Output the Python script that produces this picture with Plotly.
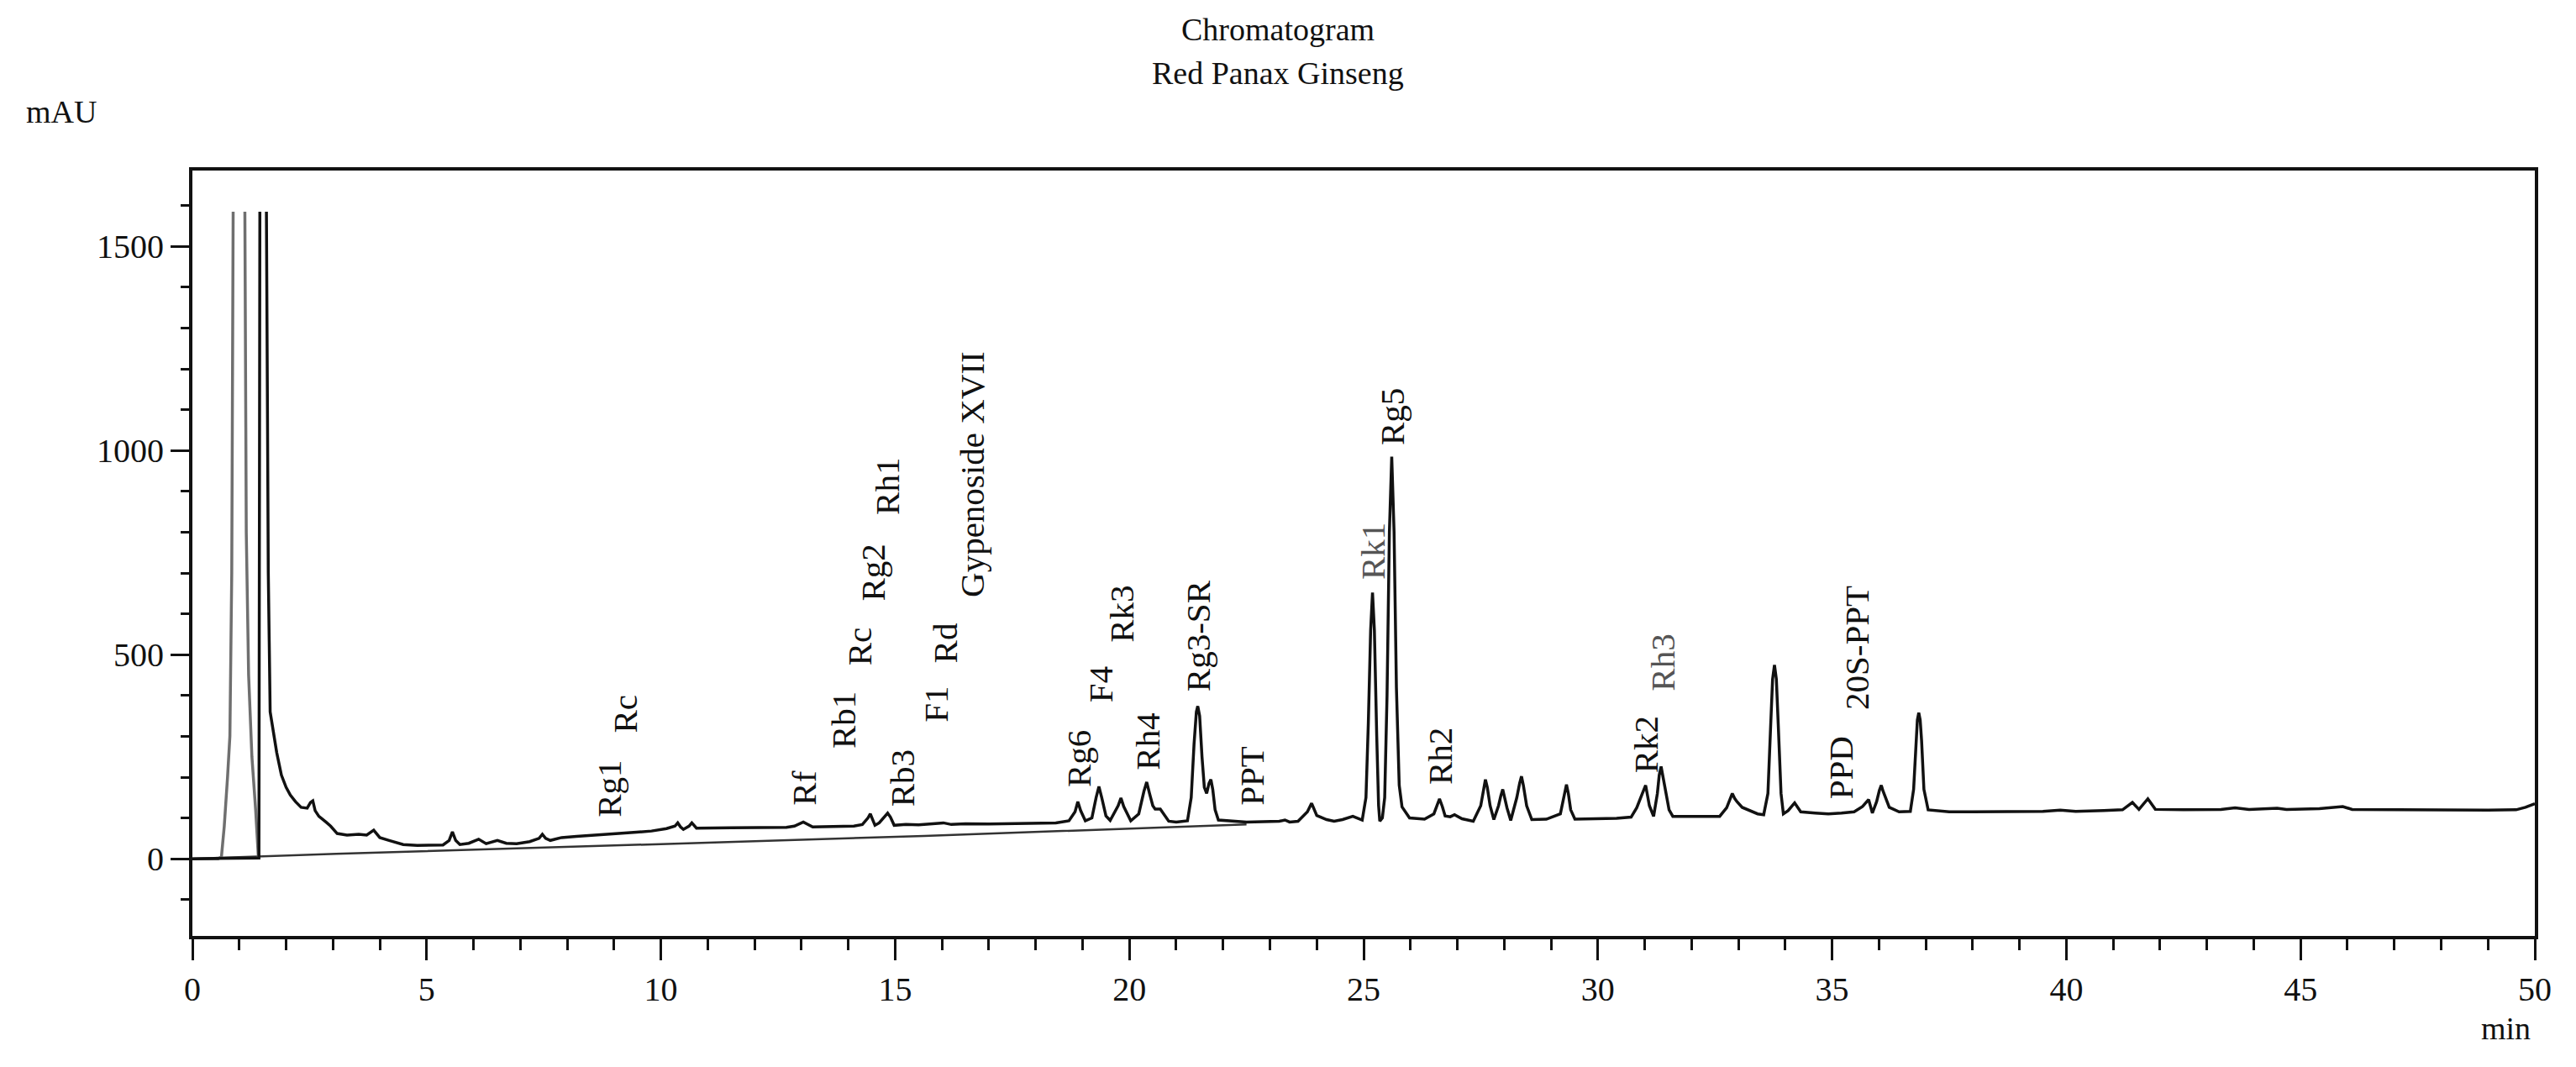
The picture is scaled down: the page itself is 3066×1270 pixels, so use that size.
import plotly.graph_objects as go

# ---------------- data ----------------
# main chromatogram (black); None = pen lifted where the signal is off-scale
time_min = [
    0.0, 1.42, 1.44, None, 1.58, 1.62, 1.66, 1.72, 1.8, 1.9, 2.0, 2.09, 2.2, 2.32, 2.45, 2.52, 2.57, 2.62,
    2.7, 2.85, 2.95, 3.09, 3.3, 3.55, 3.72, 3.87, 4.0, 4.2, 4.5, 4.8, 5.07, 5.35, 5.48, 5.55, 5.62, 5.71,
    5.9, 6.11, 6.27, 6.51, 6.7, 6.92, 7.2, 7.4, 7.47, 7.54, 7.64, 7.88, 8.2, 8.68, 9.1, 9.48, 9.8, 10.12,
    10.3, 10.36, 10.42, 10.48, 10.6, 10.66, 10.72, 10.76, 11.5, 12.2, 12.68, 12.85, 13.04, 13.24, 13.7,
    14.12, 14.3, 14.42, 14.47, 14.52, 14.57, 14.66, 14.78, 14.84, 14.9, 14.98, 15.23, 15.5, 15.8, 16.03,
    16.2, 16.5, 17.0, 17.63, 18.1, 18.43, 18.71, 18.84, 18.9, 18.96, 19.06, 19.2, 19.29, 19.35, 19.41,
    19.5, 19.59, 19.76, 19.82, 19.88, 20.03, 20.2, 20.31, 20.37, 20.43, 20.5, 20.55, 20.66, 20.84, 21.0,
    21.24, 21.32, 21.38, 21.43, 21.46, 21.5, 21.55, 21.6, 21.65, 21.7, 21.74, 21.78, 21.83, 21.9, 22.5,
    23.0, 23.2, 23.32, 23.42, 23.6, 23.8, 23.89, 24.0, 24.21, 24.37, 24.55, 24.77, 24.97, 25.05, 25.1,
    25.15, 25.19, 25.23, 25.28, 25.32, 25.345, 25.4, 25.45, 25.5, 25.55, 25.6, 25.65, 25.7, 25.76, 25.82,
    25.98, 26.3, 26.5, 26.57, 26.62, 26.68, 26.74, 26.85, 26.94, 27.1, 27.34, 27.5, 27.56, 27.6, 27.64,
    27.7, 27.78, 27.88, 27.93, 27.97, 28.01, 28.06, 28.14, 28.27, 28.33, 28.37, 28.41, 28.48, 28.59, 28.9,
    29.2, 29.29, 29.33, 29.37, 29.42, 29.51, 30.0, 30.4, 30.71, 30.83, 30.95, 31.02, 31.1, 31.19, 31.27,
    31.31, 31.35, 31.39, 31.45, 31.52, 31.6, 32.2, 32.6, 32.75, 32.83, 32.87, 32.92, 32.97, 33.08, 33.24,
    33.41, 33.54, 33.63, 33.69, 33.73, 33.77, 33.81, 33.85, 33.91, 33.96, 34.06, 34.2, 34.33, 34.64, 34.92,
    35.2, 35.47, 35.65, 35.78, 35.86, 35.95, 36.01, 36.05, 36.09, 36.14, 36.22, 36.43, 36.67, 36.74,
    36.79, 36.82, 36.85, 36.88, 36.91, 36.96, 37.05, 37.5, 38.0, 38.5, 39.0, 39.5, 39.87, 40.2, 40.8,
    41.2, 41.41, 41.55, 41.74, 41.9, 42.5, 43.3, 43.6, 43.9, 44.5, 44.7, 45.4, 45.9, 46.1, 47.0, 48.0,
    49.0, 49.6, 49.8, 50.0,
]
signal_mau = [
    0, 2, 1585, None, 1585, 700, 360, 320, 260, 205, 175, 156, 140, 126, 124, 138, 142, 118,
    104, 90, 80, 62, 58, 60, 58, 70, 52, 45, 35, 33, 33, 34, 45, 66, 45, 35,
    38, 48, 37, 45, 38, 37, 42, 50, 60, 50, 45, 52, 55, 58, 62, 65, 68, 74,
    80, 88, 78, 72, 80, 88, 80, 75, 76, 77, 77, 80, 90, 78, 79,
    80, 84, 100, 110, 98, 82, 88, 105, 112, 102, 82, 84, 83, 86, 88,
    84, 86, 85, 86, 87, 88, 93, 115, 140, 118, 93, 100, 150, 177, 150,
    105, 94, 130, 149, 128, 93, 110, 165, 188, 160, 130, 122, 122, 92, 90,
    93, 150, 280, 360, 374, 350, 250, 175, 160, 185, 194, 170, 120, 95, 90,
    91, 92, 95, 90, 92, 115, 136, 106, 96, 92, 96, 104, 95, 150, 330,
    560, 652, 560, 300, 130, 92, 100, 150, 400, 800, 985, 800, 420, 180, 127,
    100, 97, 110, 132, 147, 128, 105, 103, 108, 98, 92, 130, 175, 194, 175,
    130, 96, 130, 155, 170, 150, 125, 94, 150, 185, 202, 180, 130, 96, 97,
    110, 165, 182, 160, 120, 97, 98, 99, 102, 125, 160, 180, 130, 104, 160,
    205, 226, 200, 160, 120, 104, 103, 104, 125, 150, 160, 148, 140, 126, 118,
    110, 108, 160, 330, 440, 475, 440, 330, 160, 110, 118, 137, 115, 112, 110,
    112, 115, 128, 145, 112, 140, 168, 180, 165, 150, 126, 115, 116, 170,
    290, 340, 358, 340, 290, 170, 120, 115, 115, 115, 116, 116, 119, 116, 118,
    120, 138, 121, 147, 121, 120, 121, 125, 121, 124, 121, 123, 128, 121, 120, 119,
    119, 120, 126, 135,
]

# solvent front (grey trace)
solvent_time = [0.0, 0.55, 0.62, 0.68, 0.75, 0.8, 0.84, 0.87, None, 1.12, 1.15, 1.2, 1.27, 1.35, 1.41]
solvent_mau = [0, 0, 5, 80, 200, 300, 700, 1585, None, 1585, 800, 450, 250, 120, 0]

# drawn integration baseline
baseline_time = [0.0, 3.07, 10.0, 15.62, 22.5]
baseline_mau = [0, 12, 36, 56, 84]

# peak labels
peak_names = ["Rg1", "Rc", "Rf", "Rb1", "Rc", "Rg2", "Rh1", "Rb3", "F1", "Rd", "Gypenoside XVII",
              "Rg6", "F4", "Rk3", "Rh4", "Rg3-SR", "PPT", "Rk1", "Rg5", "Rh2", "Rk2", "Rh3",
              "PPD", "20S-PPT"]
peak_label_time = [8.89, 9.23, 13.05, 13.9, 14.23, 14.51, 14.83, 15.16, 15.88, 16.07, 16.63,
                   18.91, 19.38, 19.83, 20.39, 21.48, 22.62, 25.21, 25.62, 26.62, 31.02, 31.38,
                   35.19, 35.54]
peak_label_base = [97, 303, 127, 266, 470, 627, 838, 124, 330, 475, 636,
                   172, 379, 525, 213, 406, 126, 679, 1008, 178, 205, 406,
                   141, 360]
peak_label_grey = ["Rk1", "Rh3"]

x_ticks = [0, 5, 10, 15, 20, 25, 30, 35, 40, 45, 50]
y_ticks = [0, 500, 1000, 1500]

# ---------------- figure ----------------
W, H = 3066, 1270
ML, MR, MT, MB = 229, 49, 203, 156
PW, PH = W - ML - MR, H - MT - MB
FONT = "Liberation Serif"

fig = go.Figure()
fig.add_trace(go.Scatter(x=baseline_time, y=baseline_mau, mode="lines",
                         line=dict(color="#333333", width=2.5), hoverinfo="skip", showlegend=False))
fig.add_trace(go.Scatter(x=solvent_time, y=solvent_mau, mode="lines", connectgaps=False,
                         line=dict(color="#6f6f6f", width=3.5), hoverinfo="skip", showlegend=False))
fig.add_trace(go.Scatter(x=time_min, y=signal_mau, mode="lines", connectgaps=False,
                         line=dict(color="#111111", width=3.5), showlegend=False))

annotations = []
for name, t, b in zip(peak_names, peak_label_time, peak_label_base):
    annotations.append(dict(
        x=t, y=b, xref="x", yref="y", text=name, showarrow=False, textangle=-90,
        xanchor="center", yanchor="bottom",
        font=dict(family=FONT, size=41, color="#555555" if name in peak_label_grey else "#111111"),
    ))


def px_x(p):
    return (p - ML) / PW


def px_y(p):
    return (H - MB - p) / PH


annotations += [
    dict(x=px_x(1521), y=px_y(35), xref="paper", yref="paper", text="Chromatogram", showarrow=False,
         xanchor="center", yanchor="middle", font=dict(family=FONT, size=38, color="#111111")),
    dict(x=px_x(1521), y=px_y(87), xref="paper", yref="paper", text="Red Panax Ginseng", showarrow=False,
         xanchor="center", yanchor="middle", font=dict(family=FONT, size=38, color="#111111")),
    dict(x=px_x(73), y=px_y(133), xref="paper", yref="paper", text="mAU", showarrow=False,
         xanchor="center", yanchor="middle", font=dict(family=FONT, size=38, color="#111111")),
    dict(x=px_x(2982), y=px_y(1224), xref="paper", yref="paper", text="min", showarrow=False,
         xanchor="center", yanchor="middle", font=dict(family=FONT, size=38, color="#111111")),
]

fig.update_layout(
    width=W, height=H,
    margin=dict(l=ML, r=MR, t=MT, b=MB, pad=0),
    paper_bgcolor="white", plot_bgcolor="white",
    font=dict(family=FONT, color="#111111"),
    annotations=annotations,
)
fig.update_xaxes(
    range=[0, 50], tickmode="array", tickvals=x_ticks, ticktext=[str(v) for v in x_ticks],
    showline=True, linecolor="#111111", linewidth=4, mirror=True,
    ticks="outside", ticklen=25, tickwidth=3, tickcolor="#111111",
    minor=dict(dtick=1, tick0=0, ticks="outside", ticklen=13, tickwidth=3, tickcolor="#111111"),
    showgrid=False, zeroline=False, tickfont=dict(family=FONT, size=40, color="#111111"),
)
fig.update_yaxes(
    range=[-189, 1686], tickmode="array", tickvals=y_ticks, ticktext=[str(v) for v in y_ticks],
    showline=True, linecolor="#111111", linewidth=4, mirror=True,
    ticks="outside", ticklen=22, tickwidth=3, tickcolor="#111111",
    minor=dict(dtick=100, tick0=0, ticks="outside", ticklen=10, tickwidth=3, tickcolor="#111111"),
    showgrid=False, zeroline=False, tickfont=dict(family=FONT, size=40, color="#111111"),
)

fig.write_html("out.html", config={"displayModeBar": False},
               post_script="document.body.style.margin='0';document.body.style.overflow='hidden';")
